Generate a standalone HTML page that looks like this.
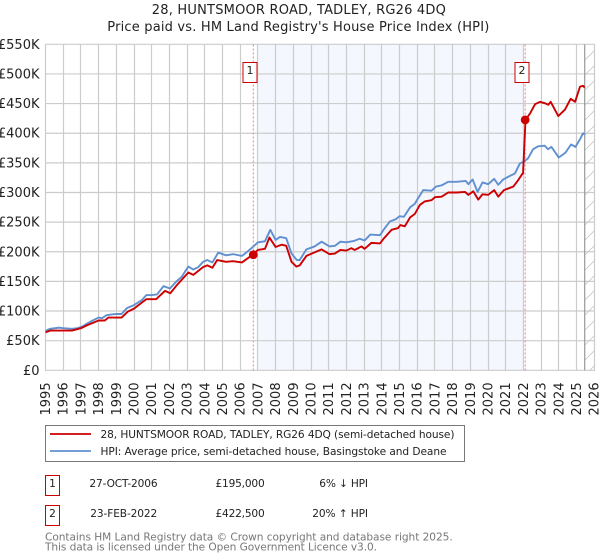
<!DOCTYPE html>
<html>
<head>
<meta charset="utf-8">
<title>28, Huntsmoor Road price chart</title>
<style>
html,body{margin:0;padding:0;background:#fff;width:600px;height:560px;overflow:hidden}
svg{display:block;font-family:"DejaVu Sans","Liberation Sans",sans-serif}
</style>
</head>
<body>
<svg id="chart" width="600" height="560" viewBox="0 0 600 560" xmlns="http://www.w3.org/2000/svg">
  <defs>
    <pattern id="hatch" patternUnits="userSpaceOnUse" width="15" height="15">
      <path d="M-2 17 L17 -2" stroke="#c8c8c8" stroke-width="0.8" fill="none"/>
    </pattern>
  </defs>
  <text x="298.8" y="14" font-size="13" text-anchor="middle" textLength="294" fill="#222">28, HUNTSMOOR ROAD, TADLEY, RG26 4DQ</text>
  <text x="298.3" y="31" font-size="13" text-anchor="middle" textLength="382" fill="#222">Price paid vs. HM Land Registry's House Price Index (HPI)</text>

  <rect x="258" y="44.5" width="266" height="326" fill="#f4f7fe"/>
  <g id="grid"></g>
  <rect x="585" y="44.5" width="9.5" height="326" fill="url(#hatch)"/>
  <line x1="584.7" x2="584.7" y1="44.5" y2="370.5" stroke="#999" stroke-width="1.2"/>
  <g id="yticks"></g>
  <g id="xticks"></g>
  <g id="sales"></g>
  <path id="hpi-line" fill="none" stroke="#6090d0" stroke-width="1.9" stroke-linejoin="round"/>
  <path id="price-line" fill="none" stroke="#cc0000" stroke-width="1.9" stroke-linejoin="round"/>
  <g id="dots"></g>

  <g>
    <rect x="45.5" y="425.5" width="419" height="36" fill="#fff" stroke="#777"/>
    <line x1="50" x2="91" y1="434" y2="434" stroke="#cc0000" stroke-width="1.8"/>
    <text x="100.5" y="438" font-size="10.6" textLength="354" fill="#222">28, HUNTSMOOR ROAD, TADLEY, RG26 4DQ (semi-detached house)</text>
    <line x1="50" x2="91" y1="451" y2="451" stroke="#6090d0" stroke-width="1.8"/>
    <text x="100.5" y="455" font-size="10.6" textLength="346" fill="#222">HPI: Average price, semi-detached house, Basingstoke and Deane</text>
  </g>

  <g font-size="10.6" fill="#222">
    <rect x="45.5" y="475.5" width="14" height="20" fill="#fff" stroke="#cc0000"/>
    <text x="52.5" y="487" text-anchor="middle">1</text>
    <text x="89.4" y="487" textLength="68.2">27-OCT-2006</text>
    <text x="215.5" y="487" textLength="49.2">£195,000</text>
    <text x="319.3" y="487" textLength="48.7">6% ↓ HPI</text>
    <rect x="45.5" y="505.5" width="14" height="20" fill="#fff" stroke="#cc0000"/>
    <text x="52.5" y="517" text-anchor="middle">2</text>
    <text x="90.3" y="517" textLength="67">23-FEB-2022</text>
    <text x="215.5" y="517" textLength="49.2">£422,500</text>
    <text x="312.3" y="517" textLength="55.7">20% ↑ HPI</text>
  </g>

  <text x="45" y="540.5" font-size="10.6" textLength="407.7" fill="#777">Contains HM Land Registry data © Crown copyright and database right 2025.</text>
  <text x="45" y="550.5" font-size="10.6" textLength="332" fill="#777">This data is licensed under the Open Government Licence v3.0.</text>
</svg>
<script>
const yearTicks = [1995,1996,1997,1998,1999,2000,2001,2002,2003,2004,2005,2006,2007,2008,2009,2010,2011,2012,2013,2014,2015,2016,2017,2018,2019,2020,2021,2022,2023,2024,2025,2026];
const priceTicks = [0,50,100,150,200,250,300,350,400,450,500,550];
const priceTickLabels = ['£0','£50K','£100K','£150K','£200K','£250K','£300K','£350K','£400K','£450K','£500K','£550K'];

const hpiYears = [1995,1995.1,1995.25,1995.8,1996,1996.5,1996.8,1997,1997.15,1997.3,1997.6,1998,1998.2,1998.45,1998.7,1999,1999.3,1999.6,2000,2000.43,2000.7,2001,2001.3,2001.67,2002.03,2002.4,2002.7,2003.07,2003.35,2003.63,2003.9,2004.14,2004.43,2004.76,2005.2,2005.6,2006.1,2006.4,2006.75,2007,2007.4,2007.7,2008,2008.25,2008.6,2008.9,2009.2,2009.36,2009.74,2010.2,2010.6,2011.05,2011.35,2011.66,2012,2012.4,2012.75,2013.03,2013.35,2013.9,2014.1,2014.45,2014.8,2015,2015.25,2015.6,2015.87,2016,2016.34,2016.81,2017.06,2017.38,2017.75,2018.23,2018.74,2018.89,2019.13,2019.41,2019.69,2020.01,2020.35,2020.58,2020.86,2021.24,2021.52,2021.8,2022.03,2022.27,2022.55,2022.83,2023.2,2023.39,2023.58,2024,2024.37,2024.69,2024.94,2025.22,2025.37,2025.46];
const hpiValues = [66,68,70,72,71,70,71,73,75,78,83,89,88,93,94,95,95,105,110,118,127,127,128,142,138,150,158,175,170,174,183,186,182,198.5,194,196,193,200,209,216,217.6,237,220,225,223,197,186,186,204,209,217,209,210,217,216,218,222,219,229,228,237,251,255,260,259,275,281,288,304,303,310,312,318,318,319.5,314,322,301,317,314,323,313,322,328,332,349,352,358,373,378,379,373,377,359,367,381,377,391,400,398];

const paidYears = [1995,1995.1,1995.25,1996,1996.5,1997,1997.35,1998,1998.35,1998.55,1999.3,1999.65,2000,2000.7,2001.25,2001.75,2002.05,2002.4,2003.07,2003.35,2003.9,2004.14,2004.43,2004.7,2005.2,2005.6,2006.1,2006.75,2007,2007.4,2007.65,2008,2008.35,2008.6,2008.9,2009.17,2009.36,2009.74,2010.2,2010.6,2011.05,2011.35,2011.66,2012,2012.28,2012.47,2012.85,2013.03,2013.41,2013.9,2014.1,2014.55,2014.92,2015.05,2015.3,2015.6,2015.87,2016.15,2016.43,2016.81,2017,2017.38,2017.75,2018.23,2018.7,2018.89,2019.17,2019.45,2019.69,2020.01,2020.35,2020.58,2020.9,2021.43,2021.71,2021.95,2021.98,2022.12,2022.38,2022.66,2022.94,2023.22,2023.41,2023.54,2023.97,2024.35,2024.67,2024.92,2025.2,2025.37,2025.46];
const paidValues = [64,65,67,67,67,71,76,84,84,89,89,99,104,120,120,134,130,143,165,161,174,177,173,186,183,184,182,196,203,205,224,208,212,210,183,175,177,193,199,204,196,197,203,202,206,203,209,205,215,214,222,237,240,245,243,258,264,279,285,287,292,293,300,300,301,296,302,288,297,296,304,293,304,310,321,332,332,422.5,433.6,449,453,450.5,448,453,429,440,458,453,478.6,480,477];

const saleLabels = ['1','2'];
const saleYears = [2006.74,2022.1];
const salePrices = [195,422.5];

const NS = 'http://www.w3.org/2000/svg';
const X0 = 45.5, XSCALE = 17.7, Y0 = 370.3, YSCALE = 0.5927;
function xAt(year){ return X0 + (year - 1995) * XSCALE; }
function yAt(value){ return Y0 - value * YSCALE; }
function snap(v){ return Math.floor(v) + 0.5; }
function make(tag, parent, attrs){
  const el = document.createElementNS(NS, tag);
  for (const k in attrs) el.setAttribute(k, attrs[k]);
  parent.appendChild(el);
  return el;
}
const grid = document.getElementById('grid');
const yticks = document.getElementById('yticks');
const xticks = document.getElementById('xticks');
const sales = document.getElementById('sales');
const dots = document.getElementById('dots');

yearTicks.forEach(function(year){
  const x = snap(xAt(year));
  const line = make('line', grid, {x1:x, x2:x, y1:44, y2:371, stroke:'#cccccc', 'stroke-width':1.2});
  
  
  const label = make('text', xticks, {transform:'translate(' + (xAt(year) + 4.5) + ',415.5) rotate(-90)', 'font-size':13, fill:'#222'});
  label.textContent = String(year);
  
  
});
priceTicks.forEach(function(value, i){
  const y = yAt(value);
  const line = make('line', grid, {x1:45, x2:595, y1:y, y2:y, stroke:'#cccccc', 'stroke-width':1.2});
  
  
  const label = make('text', yticks, {x:39.5, y:y + 4.5, 'text-anchor':'end', 'font-size':13, fill:'#222'});
  label.textContent = priceTickLabels[i];
  
  
});
function pathFrom(years, values){
  return years.map(function(year, i){
    return (i ? 'L' : 'M') + xAt(year).toFixed(2) + ' ' + yAt(values[i]).toFixed(2);
  }).join(' ');
}
document.getElementById('hpi-line').setAttribute('d', pathFrom(hpiYears, hpiValues));
document.getElementById('price-line').setAttribute('d', pathFrom(paidYears, paidValues));

saleYears.forEach(function(year, i){
  const x = xAt(year);
  const rule = make('line', sales, {x1:x, x2:x, y1:44.5, y2:370.5, stroke:'#e8808f', 'stroke-width':1, 'stroke-dasharray':'2 2'});
  
  
  const box = make('rect', sales, {x:Math.floor(x) - 10 + 0.5 - 0.5, y:62.5, width:14, height:20, fill:'#fff', stroke:'#cc0000', 'stroke-width':1});
  
  
  const num = make('text', sales, {x:Math.floor(x) - 3, y:74, 'text-anchor':'middle', 'font-size':11, fill:'#222'});
  num.textContent = saleLabels[i];
  
  
  const dot = make('circle', dots, {cx:x, cy:yAt(salePrices[i]), r:4.4, fill:'#cc0000'});
  
  
});
</script>
</body>
</html>
